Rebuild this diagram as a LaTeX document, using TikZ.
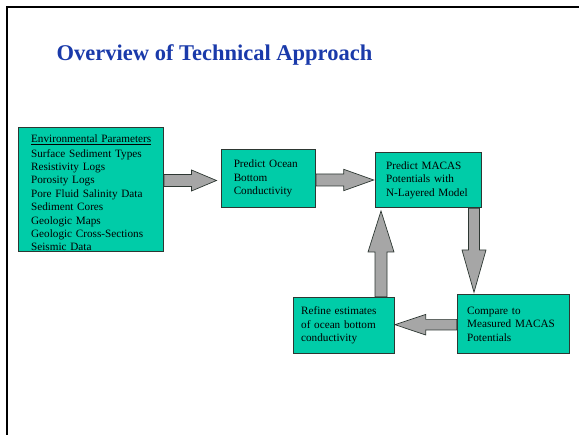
\documentclass[tikz,border=0pt]{standalone}
\usepackage{fontspec}
\setmainfont{Liberation Serif}
\usetikzlibrary{calc}
\definecolor{tealbox}{RGB}{0,204,168}
\definecolor{boxline}{RGB}{45,55,50}
\definecolor{arrowgray}{RGB}{166,166,166}
\definecolor{titleblue}{RGB}{26,58,170}
\newcommand{\blockarr}[5]{%
  \path ($(#2)!#5!(#1)$) coordinate (bb);
  \draw[blockarrow] ($(#1)!#3!90:(#2)$) -- ($(bb)!#3!90:(#2)$) -- ($(bb)!#4!90:(#2)$) -- (#2)
    -- ($(bb)!#4!-90:(#2)$) -- ($(bb)!#3!-90:(#2)$) -- ($(#1)!#3!-90:(#2)$) -- cycle;
}
\tikzset{
  box/.style={draw=boxline, line width=0.9pt, fill=tealbox, align=left,
    font=\fontsize{11.2}{13.4}\selectfont, inner ysep=0pt, anchor=north west},
  blockarrow/.style={draw=boxline, line width=0.7pt, fill=arrowgray, line join=miter},
  frame/.style={line width=2pt, draw=black},
}
\begin{document}
\begin{tikzpicture}[x=1pt,y=-1pt]
\useasboundingbox (0,0) rectangle (579,435);
\draw[frame] (7.4,436) -- (7.4,7) -- (580,7);
\node[anchor=base west, inner sep=0pt, text=titleblue, font=\fontsize{22.5}{26}\selectfont\bfseries] (title) at (56.5,60.5) {Overview of Technical Approach};

\node[box, text width=120pt, inner xsep=12.4pt, minimum height=122.7pt] (env) at (18.3,127.3)
 {\rule{0pt}{15pt}\underline{Environmental Parameters}\\[1pt]
  Surface Sediment Types\\ Resistivity Logs\\ Porosity Logs\\ Pore Fluid Salinity Data\\
  Sediment Cores\\ Geologic Maps\\ Geologic Cross-Sections\\ Seismic Data};
\node[box, text width=69.4pt, inner xsep=12.3pt, minimum height=58.3pt] (ocean) at (221,149)
 {Predict Ocean\\ Bottom\\ Conductivity};
\node[box, text width=84.6pt, inner xsep=10.7pt, minimum height=55.6pt] (macas) at (375,151.7)
 {Predict MACAS\\ Potentials with\\ N-Layered Model};
\node[box, text width=92.6pt, inner xsep=10pt, minimum height=58.4pt] (compare) at (456.7,294.3)
 {Compare to\\ Measured MACAS\\ Potentials};
\node[box, text width=85.6pt, inner xsep=8pt, minimum height=56.6pt] (refine) at (292.7,296.7)
 {Refine estimates\\ of ocean bottom\\ conductivity};

\coordinate (a1s) at (env.east |- 0,180.5);
\coordinate (a1e) at (216.5,180.5);
\coordinate (a2s) at (ocean.east |- 0,180);
\coordinate (a2e) at (373.7,180);
\coordinate (a3s) at (macas.south -| 474,0);
\coordinate (a3e) at (474,292.3);
\coordinate (a4s) at (compare.west |- 0,324.7);
\coordinate (a4e) at (395,324.7);
\coordinate (a5s) at (refine.north -| 381,0);
\coordinate (a5e) at (381,211);

\blockarr{a1s}{a1e}{6pt}{10.5pt}{25pt}
\blockarr{a2s}{a2e}{6pt}{10.7pt}{30pt}
\blockarr{a3s}{a3e}{5.5pt}{12pt}{42.3pt}
\blockarr{a4s}{a4e}{5.3pt}{10.3pt}{30.7pt}
\blockarr{a5s}{a5e}{6pt}{13pt}{41pt}
\end{tikzpicture}
\end{document}
